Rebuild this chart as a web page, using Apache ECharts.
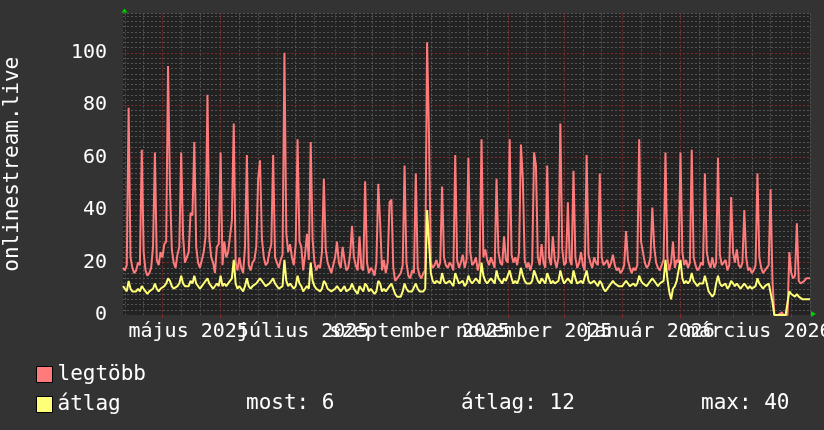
<!DOCTYPE html>
<html><head><meta charset="utf-8">
<script src="https://cdn.jsdelivr.net/npm/echarts@6/dist/echarts.min.js"></script>
<style>html,body{margin:0;padding:0;background:#333333;}#c{width:824px;height:430px;}</style>
</head><body><div id="c"></div>
<script>
// daily data, first day 2025-04-10
const startYear = 2025, startMonth = 4, startDay = 10;
const dayCount = 367;

// "legtöbb" (max) daily values, 7 per row
const maxValues = [
 18,17,19,79,22,18,16,
 17,20,19,63,24,17,15,
 16,18,26,62,21,19,24,
 22,27,28,95,49,25,20,
 18,23,26,62,30,20,22,
 24,39,38,66,26,20,18,
 21,24,30,84,29,22,20,
 16,26,27,62,19,28,22,
 24,30,36,73,20,17,22,
 18,16,26,61,19,17,20,
 21,26,52,59,29,22,19,
 20,24,27,61,22,20,18,
 21,23,100,31,24,27,22,
 19,27,67,28,26,17,23,
 31,21,66,29,20,17,19,
 18,24,52,25,20,18,16,
 19,22,28,20,18,26,21,
 17,18,23,34,22,19,17,
 30,18,17,51,20,16,18,
 17,15,20,50,35,17,21,
 16,20,43,44,18,13,14,
 14,16,19,57,20,15,14,
 17,16,54,18,15,14,16,
 17,104,69,20,18,19,21,
 18,20,49,22,19,18,20,
 19,17,61,21,18,20,23,
 18,21,60,24,19,20,22,
 17,20,67,22,25,21,19,
 22,20,18,52,24,20,19,
 30,21,20,67,23,20,22,
 19,24,65,52,21,18,20,
 17,20,62,57,22,19,27,
 20,18,57,22,19,30,21,
 18,22,73,25,19,20,43,
 21,19,55,22,18,20,24,
 19,17,61,23,20,18,22,
 20,19,54,22,19,20,21,
 18,20,23,19,17,18,16,
 17,19,32,21,18,16,18,
 17,19,67,28,24,20,18,
 19,22,41,26,20,18,17,
 19,21,62,22,17,20,28,
 18,21,20,62,24,19,21,
 18,20,63,22,19,17,18,
 20,19,54,24,20,18,22,
 18,20,60,23,19,20,21,
 17,19,45,24,20,25,19,
 18,20,40,22,17,18,16,
 17,19,54,22,18,16,17,
 18,19,48,13,0,0,0,
 0,1,0,0,0,24,16,
 14,15,35,13,12,12,13,
 14,14,14
];

// "átlag" (average) daily values
const avgValues = [
 11,10,9,13,10,9,9,
 9,10,9,11,10,9,8,
 9,9,10,12,10,9,10,
 10,11,12,14,13,11,10,
 10,11,12,15,12,11,11,
 11,13,12,15,12,11,10,
 11,12,12,14,12,11,10,
 10,12,11,15,11,12,11,
 11,13,14,21,12,10,11,
 10,9,11,14,11,10,11,
 11,12,13,14,13,12,11,
 11,12,12,14,12,11,10,
 10,11,21,13,11,12,11,
 10,11,15,12,11,9,10,
 11,10,20,13,11,10,10,
 9,10,13,12,10,10,9,
 9,10,11,10,9,10,11,
 9,9,10,12,10,9,8,
 11,10,9,12,11,9,10,
 9,8,9,13,12,9,10,
 9,10,11,12,10,8,7,
 7,7,9,12,10,9,9,
 9,9,12,10,9,9,9,
 10,40,40,16,13,12,13,
 13,12,16,13,12,12,13,
 12,11,16,14,12,12,13,
 11,12,15,13,12,12,14,
 13,12,20,15,13,12,13,
 14,13,12,17,14,13,12,
 14,13,13,17,14,12,13,
 12,14,18,15,13,12,12,
 12,13,17,15,13,12,14,
 13,12,16,14,12,13,12,
 12,13,17,14,12,12,14,
 13,12,17,14,12,12,13,
 12,12,17,13,12,12,13,
 12,11,13,12,10,9,10,
 11,12,13,12,12,11,11,
 11,12,13,12,11,11,12,
 11,12,15,13,12,12,11,
 12,12,14,13,12,11,12,
 12,13,21,14,9,6,10,
 11,13,13,21,14,12,13,
 12,13,16,13,12,11,12,
 12,12,15,12,9,8,7,
 8,12,15,12,11,11,12,
 10,11,13,12,11,12,11,
 10,11,12,11,10,11,10,
 10,11,14,12,11,10,11,
 11,12,12,5,0,0,0,
 0,0,0,0,0,9,8,
 8,7,8,7,7,6,6,
 6,6,6
];

const seriesNames = ['legtöbb', 'átlag'];
const seriesColors = ['#ff7b7b', '#ffff77'];
const xLabelDates = ['2025-05-15','2025-07-15','2025-09-15','2025-11-15','2026-01-15','2026-03-15'];
const xLabels = ['május 2025','július 2025','szeptember 2025','november 2025','január 2026','március 2026'];
const yTickLabels = ['0','20','40','60','80','100'];
const statTexts = ['most: 6', 'átlag: 12', 'max: 40'];
const yTitle = 'onlinestream.live';

const FONT = "'DejaVu Sans Mono', monospace";
const RED_GRID = '#7e2c2c';
const GREY_GRID = '#555555';

const days = [];
const t0 = Date.UTC(startYear, startMonth - 1, startDay);
for (let i = 0; i < dayCount; i++) {
  days.push(new Date(t0 + i * 86400000).toISOString().slice(0, 10));
}
// labels split over two axes (alternating) so overlapping labels are all drawn
const labelMapA = {}, labelMapB = {};
xLabelDates.forEach((d, i) => { (i % 2 === 0 ? labelMapA : labelMapB)[d] = xLabels[i]; });

const T = 'rgba(0,0,0,0)';
const greyCycle = [T, GREY_GRID, GREY_GRID, GREY_GRID, GREY_GRID, GREY_GRID, GREY_GRID, GREY_GRID, GREY_GRID, GREY_GRID];

function labelAxis(map, extra) {
  return Object.assign({
    type: 'category', data: days, boundaryGap: false, gridIndex: 0, position: 'bottom',
    axisLine: {show: false}, axisTick: {show: false},
    axisLabel: {show: true, interval: (i, v) => map[v] !== undefined,
                formatter: v => map[v] || '', color: '#ffffff',
                fontFamily: FONT, fontSize: 20, margin: 7, hideOverlap: false,
                showMinLabel: true, showMaxLabel: true},
    splitLine: {show: false}
  }, extra || {});
}

const chart = echarts.init(document.getElementById('c'), null, {renderer: 'canvas'});
chart.setOption({
  backgroundColor: '#333333',
  animation: false,
  textStyle: {fontFamily: FONT},
  grid: {left: 123, top: 13.5, right: 14, bottom: 115, show: true,
         backgroundColor: '#222222', borderWidth: 0, containLabel: false, outerBoundsMode: 'none'},
  xAxis: [
    labelAxis(labelMapA, {
      axisTick: {show: true, length: 3, interval: (i, v) => v.endsWith('-01'),
                 lineStyle: {color: RED_GRID, width: 1}},
      splitLine: {show: true, interval: (i, v) => v.endsWith('-01'),
                  lineStyle: {color: RED_GRID, type: [2, 2], width: 1}}
    }),
    {
      type: 'category', data: days, boundaryGap: false, gridIndex: 0, position: 'bottom',
      axisLine: {show: false}, axisTick: {show: false}, axisLabel: {show: false},
      splitLine: {show: true, interval: (i, v) => v.endsWith('-11') || v.endsWith('-21'),
                  lineStyle: {color: GREY_GRID, type: [2, 2], width: 1}}
    },
    labelAxis(labelMapB)
  ],
  yAxis: [
    {
      type: 'value', min: 0, max: 115, interval: 20, gridIndex: 0,
      name: yTitle, nameLocation: 'middle', nameGap: 100, nameRotate: 90,
      nameTextStyle: {color: '#ffffff', fontFamily: FONT, fontSize: 21},
      axisLine: {show: false}, axisTick: {show: false},
      axisLabel: {color: '#ffffff', fontFamily: FONT, fontSize: 20, margin: 16,
                  formatter: v => { const k = yTickLabels.indexOf(String(v)); return k >= 0 ? yTickLabels[k] : ''; }},
      splitLine: {show: true, lineStyle: {color: [T, RED_GRID, RED_GRID, RED_GRID, RED_GRID, RED_GRID, T], type: [2, 2], width: 1}}
    },
    {
      type: 'value', min: 0, max: 115, interval: 2, gridIndex: 0, position: 'left',
      axisLine: {show: false}, axisTick: {show: false}, axisLabel: {show: false},
      splitLine: {show: true, lineStyle: {color: greyCycle, type: [2, 2], width: 1}}
    }
  ],
  legend: {
    data: seriesNames, orient: 'vertical', left: 31, top: 359,
    itemWidth: 16, itemHeight: 16, itemGap: 9, icon: 'rect',
    itemStyle: {borderColor: '#000000', borderWidth: 1},
    textStyle: {color: '#ffffff', fontFamily: FONT, fontSize: 21},
    selectedMode: false
  },
  series: [
    {name: seriesNames[0], type: 'line', data: maxValues, xAxisIndex: 0, yAxisIndex: 0,
     showSymbol: false, symbol: 'none', lineStyle: {color: seriesColors[0], width: 2},
     itemStyle: {color: seriesColors[0]}, z: 3},
    {name: seriesNames[1], type: 'line', data: avgValues, xAxisIndex: 0, yAxisIndex: 0,
     showSymbol: false, symbol: 'none', lineStyle: {color: seriesColors[1], width: 2},
     itemStyle: {color: seriesColors[1]}, z: 4}
  ]
});

// decorations: green axis arrows and legend statistics
const pTop = chart.convertToPixel({xAxisIndex: 0, yAxisIndex: 0}, [0, 115]);
const pEnd = chart.convertToPixel({xAxisIndex: 0, yAxisIndex: 0}, [dayCount - 1, 0]);
const ax = pTop[0] + 1.5, ay = pTop[1];
const bx = pEnd[0], by = pEnd[1];
const statFont = "21px 'DejaVu Sans Mono', monospace";
chart.setOption({
  graphic: [
    {type: 'polygon', shape: {points: [[ax - 3, ay - 1], [ax + 3, ay - 1], [ax, ay - 5]]}, style: {fill: '#00cc00'}, z: 100},
    {type: 'polygon', shape: {points: [[bx + 1, by - 4], [bx + 1, by + 2], [bx + 6, by - 1]]}, style: {fill: '#00cc00'}, z: 100},
    {type: 'text', left: 246, top: 393, style: {text: statTexts[0], fill: '#ffffff', font: statFont}},
    {type: 'text', left: 461, top: 393, style: {text: statTexts[1], fill: '#ffffff', font: statFont}},
    {type: 'text', left: 701, top: 393, style: {text: statTexts[2], fill: '#ffffff', font: statFont}}
  ]
});
</script>
</body></html>
